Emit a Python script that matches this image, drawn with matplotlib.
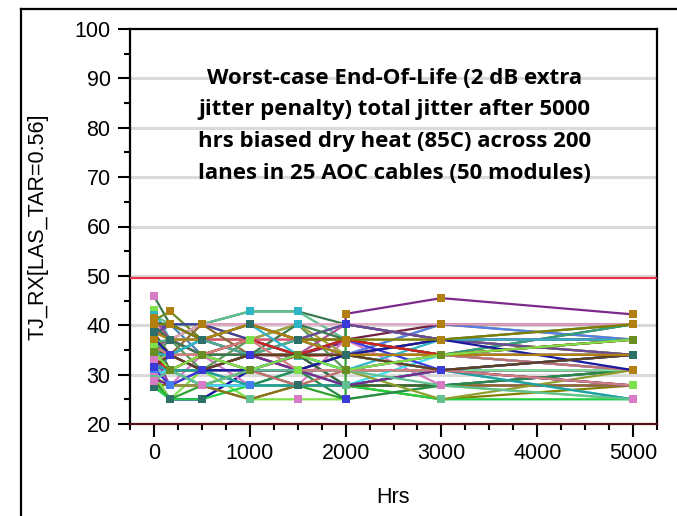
import matplotlib
matplotlib.use("Agg")
import matplotlib.pyplot as plt
from matplotlib.lines import Line2D

# Aging time points (hours)
hours = [0, 168, 500, 1000, 1500, 2000, 3000, 5000]

# TJ_RX per lane at each time point (subset of lanes)
lanes = [
    [35.2, 34.0, 30.9, 34.0, 34.0, 42.3, 45.5, 42.2],
    [45.9, 40.2, 40.2, 42.8, 42.8, 40.2, 37.1, 37.1],
    [43.0, 37.1, 34.0, 30.9, 27.8, 27.8, 30.9, 34.0],
    [29.0, 25.0, 25.0, 30.9, 34.0, 27.8, 27.8, 30.9],
    [30.0, 25.0, 25.0, 30.9, 30.9, 27.8, 30.9, 30.9],
    [31.5, 30.9, 27.8, 30.9, 33.8, 34.0, 30.9, 27.8],
    [28.0, 27.8, 27.8, 25.0, 27.8, 27.8, 25.0, 27.8],
    [42.0, 40.2, 40.2, 42.8, 42.8, 37.1, 34.0, 34.0],
    [40.0, 37.1, 40.2, 40.2, 37.1, 34.0, 34.0, 30.9],
    [38.5, 34.0, 37.1, 40.2, 37.1, 37.1, 34.0, 37.1],
    [39.0, 37.1, 40.2, 37.1, 34.0, 34.0, 40.2, 37.1],
    [30.0, 25.0, 30.9, 25.0, 25.0, 25.0, 27.8, 25.0],
    [28.5, 25.0, 27.8, 30.9, 27.8, 40.2, 37.1, 34.0],
    [32.0, 27.8, 34.0, 27.8, 27.8, 37.1, 27.8, 27.8],
    [33.0, 34.0, 30.9, 34.0, 30.9, 34.0, 34.0, 30.9],
    [40.5, 40.2, 37.1, 40.2, 37.1, 40.2, 37.1, 40.2],
    [39.5, 40.2, 37.1, 34.0, 37.1, 34.0, 40.2, 37.1],
    [32.5, 30.9, 27.8, 27.8, 30.9, 27.8, 30.9, 25.0],
    [36.0, 34.0, 30.9, 34.0, 37.1, 34.0, 37.1, 34.0],
    [35.0, 34.0, 34.0, 34.0, 33.8, 37.1, 40.2, 40.2],
    [37.0, 34.0, 34.0, 30.9, 30.9, 34.0, 30.9, 34.0],
    [34.5, 37.1, 34.0, 34.0, 30.9, 30.9, 34.0, 34.0],
    [41.0, 42.8, 37.1, 37.1, 34.0, 37.1, 34.0, 37.1],
    [31.0, 30.9, 30.9, 30.9, 27.8, 30.9, 30.9, 30.9],
    [30.5, 30.9, 34.0, 34.0, 34.0, 37.1, 34.0, 40.2],
    [36.0, 30.9, 30.9, 30.9, 34.0, 30.9, 30.9, 30.9],
    [30.8, 30.9, 30.9, 30.9, 30.9, 30.9, 30.9, 30.9],
    [34.0, 27.8, 27.8, 27.8, 27.8, 27.8, 27.8, 27.8],
    [27.5, 25.0, 25.0, 27.8, 27.8, 27.8, 25.0, 25.0],
    [33.5, 30.9, 30.9, 30.9, 30.9, 30.9, 30.9, 30.9],
    [35.5, 30.9, 27.8, 25.0, 27.8, 27.8, 27.8, 27.8],
    [38.0, 34.0, 34.0, 37.1, 34.0, 30.9, 34.0, 40.2],
    [37.5, 40.2, 34.0, 34.0, 34.0, 34.0, 34.0, 34.0],
    [36.8, 34.0, 37.1, 37.1, 37.1, 37.1, 37.1, 37.1],
    [39.0, 37.1, 37.1, 37.1, 37.1, 37.1, 34.0, 30.9],
    [33.0, 34.0, 30.9, 34.0, 37.1, 34.0, 34.0, 34.0],
    [37.1, 30.9, 30.9, 34.0, 34.0, 27.8, 27.8, 30.9],
    [30.0, 30.9, 27.8, 27.8, 30.9, 27.8, 34.0, 30.9],
    [35.8, 37.1, 34.0, 30.9, 30.9, 30.9, 34.0, 34.0],
    [34.8, 30.9, 30.9, 27.8, 30.9, 25.0, 27.8, 30.9],
    [32.8, 34.0, 34.0, 30.9, 34.0, 34.0, 30.9, 30.9],
    [36.2, 37.1, 34.0, 34.0, 34.0, 34.0, 34.0, 34.0],
    [29.5, 27.8, 27.8, 30.9, 30.9, 30.9, 25.0, 30.9],
    [38.8, 40.2, 40.2, 37.1, 34.0, 34.0, 37.1, 37.1],
    [40.8, 37.1, 40.2, 40.2, 40.2, 40.2, 40.2, 40.2],
    [31.8, 30.9, 30.9, 27.8, 27.8, 27.8, 30.9, 25.0],
    [37.8, 34.0, 40.2, 34.0, 30.9, 34.0, 37.1, 34.0],
    [33.8, 37.1, 30.9, 37.1, 40.2, 30.9, 30.9, 34.0],
    [41.5, 37.1, 34.0, 37.1, 34.0, 40.2, 37.1, 37.1],
    [30.2, 34.0, 37.1, 34.0, 30.9, 34.0, 30.9, 27.8],
    [35.0, 30.9, 34.0, 37.1, 40.2, 34.0, 34.0, 37.1],
    [38.2, 40.2, 37.1, 34.0, 37.1, 40.2, 37.1, 34.0],
    [32.2, 34.0, 34.0, 30.9, 27.8, 30.9, 34.0, 30.9],
    [36.5, 37.1, 37.1, 34.0, 37.1, 34.0, 30.9, 34.0],
    [29.2, 27.8, 30.9, 34.0, 30.9, 27.8, 30.9, 27.8],
    [39.8, 37.1, 34.0, 34.0, 40.2, 37.1, 34.0, 37.1],
    [34.2, 34.0, 37.1, 40.2, 34.0, 30.9, 37.1, 37.1],
    [31.2, 27.8, 30.9, 30.9, 34.0, 37.1, 30.9, 34.0],
    [37.3, 34.0, 30.9, 30.9, 30.9, 34.0, 37.1, 30.9],
    [33.2, 30.9, 34.0, 37.1, 34.0, 37.1, 34.0, 37.1],
    [40.2, 40.2, 37.1, 40.2, 37.1, 37.1, 37.1, 40.2],
    [28.8, 30.9, 27.8, 30.9, 30.9, 30.9, 27.8, 25.0],
    [35.6, 34.0, 34.0, 37.1, 30.9, 30.9, 30.9, 27.8],
    [31.6, 34.0, 30.9, 34.0, 34.0, 34.0, 30.9, 34.0],
    [38.6, 37.1, 37.1, 40.2, 37.1, 34.0, 34.0, 34.0],
    [34.6, 30.9, 34.0, 30.9, 34.0, 30.9, 34.0, 37.1],
]

# first reading at 2000 hrs for lanes that were measured twice
retest_2000 = {0: 36.5, 12: 25.0}

line_colors = ['#7b2a8b', '#3a7a50', '#2fb4c8', '#3a3ad8', '#1a1aa0', '#d02020',
               '#808000', '#60c090', '#d08080', '#604020', '#b08010', '#7ee04a',
               '#30a030', '#d67bc4', '#e040e0', '#2f6f6a', '#5080f0', '#40d0c0',
               '#c8c870', '#702040', '#d06a00', '#a090d0', '#6b8e23', '#d0a080',
               '#606010', '#40b060', '#80c0e0', '#9040b0', '#20d040', '#a02030',
               '#8a7020', '#30a080', '#4682b4', '#90b090', '#e05070', '#d0d080',
               '#307030', '#40e0f0', '#8060c0', '#2a8a4a', '#80e0a0', '#c05030',
               '#90a030', '#4040a0', '#e0a0c0', '#20a0a0', '#8a6a3a', '#5a9a5a',
               '#b05090', '#3a8ab0', '#a0a040', '#6a4a9a', '#c07070', '#4ab08a']
marker_colors = ['#b08010', '#d67bc4', '#7ee04a', '#3a3ad8', '#2f6f6a', '#6b8e23',
                 '#60c090', '#2fb4c8', '#b08010', '#4080f0', '#b08010', '#d67bc4']

limit = 49.6

title_lines = ["Worst-case End-Of-Life (2 dB extra",
               "jitter penalty) total jitter after 5000",
               "hrs biased dry heat (85C) across 200",
               "lanes in 25 AOC cables (50 modules)"]

plt.rcParams['font.family'] = ['Liberation Sans', 'DejaVu Sans']

fig = plt.figure(figsize=(6.77, 5.16), dpi=100)
ax = fig.add_axes([130/677, 92/516, 527/677, 395/516])

for yg in [30, 40, 50, 60, 70, 80, 90]:
    ax.axhline(yg, color='#dadada', lw=2.2, zorder=0)

for i, vals in enumerate(lanes):
    xs = list(hours)
    ys = list(vals)
    if i in retest_2000:
        k = hours.index(2000)
        xs.insert(k, 2000)
        ys.insert(k, retest_2000[i])
    ax.plot(xs, ys, color=line_colors[i % len(line_colors)], lw=1.6, zorder=2)
    ax.plot(xs, ys, ls='none', marker='s', ms=5.5, mew=0,
            color=marker_colors[i % len(marker_colors)], zorder=3)

ax.axhline(limit, color='#e8304a', lw=1.6, zorder=4)

for j, t in enumerate(title_lines):
    ax.text(2510, 90 - j * 6.4, t, ha='center', va='center', fontsize=16,
            fontweight='bold', family=['Open Sans', 'DejaVu Sans'], zorder=5)

ax.set_xlim(-250, 5250)
ax.set_ylim(20, 100)
ax.set_xticks([0, 1000, 2000, 3000, 4000, 5000])
ax.set_xticks(range(-250, 5251, 250), minor=True)
ax.set_yticks(range(20, 101, 10))
ax.set_yticks(range(20, 101, 5), minor=True)
ax.tick_params(which='major', length=9, width=1.5, labelsize=15.5, pad=5)
ax.tick_params(which='minor', length=4.5, width=1.5)
for s in ax.spines.values():
    s.set_linewidth(1.6)
ax.spines['bottom'].set_color('#501018')

ax.set_xlabel("Hrs", fontsize=15.5, labelpad=16)
ax.set_ylabel("TJ_RX[LAS_TAR=0.56]", fontsize=15.5, labelpad=19)

# outer frame, cut off at right and bottom
fig.add_artist(Line2D([21/677, 21/677], [0, 1 - 9/516], color='black', lw=1.6,
                      transform=fig.transFigure))
fig.add_artist(Line2D([21/677, 1], [1 - 9/516, 1 - 9/516], color='black', lw=1.6,
                      transform=fig.transFigure))

fig.savefig("out.png", dpi=100)
